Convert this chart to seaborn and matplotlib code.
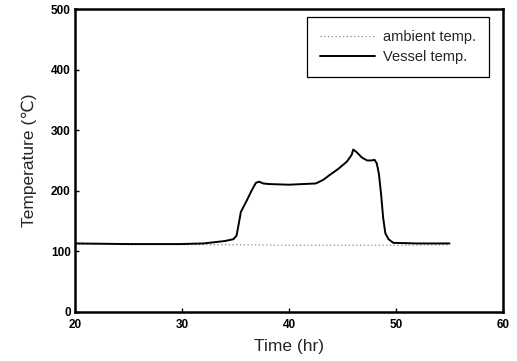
import matplotlib
matplotlib.use("Agg")
import matplotlib.pyplot as plt
import seaborn as sns
import pandas as pd

# Vessel temperature
vessel_time = [20, 25, 29.8, 32, 34.0, 34.8, 35.1, 35.3, 35.5, 36.0, 36.5, 36.9, 37.2, 37.6, 38.2, 40,
               42.5, 43.2, 43.8, 44.6, 45.4, 45.85, 46.0, 46.3, 46.8, 47.3, 47.7, 48.0, 48.2, 48.4,
               48.6, 48.8, 49.0, 49.3, 49.75, 52, 55]
vessel_temp = [113, 112, 112, 113, 117, 120, 126, 145, 165, 182, 200, 213, 215, 212, 211, 210,
               212, 218, 226, 236, 248, 259, 268, 264, 255, 250, 250, 251, 245, 228,
               195, 155, 130, 120, 114, 113, 113]

# Ambient temperature (faint dotted trace)
ambient_time = [20, 25, 30, 35, 40, 45, 50, 55]
ambient_temp = [112, 111, 111, 111, 110, 110, 110, 111]

x_ticks = [20, 30, 40, 50, 60]
y_ticks = [0, 100, 200, 300, 400, 500]

sns.set_theme(style="ticks")
plt.rcParams['font.family'] = ['Liberation Sans', 'DejaVu Sans']

fig = plt.figure(figsize=(5.17, 3.61), dpi=100)
ax = fig.add_axes([0.145, 0.136, 0.828, 0.839])

amb = pd.DataFrame({"t": ambient_time, "v": ambient_temp})
ves = pd.DataFrame({"t": vessel_time, "v": vessel_temp})

sns.lineplot(data=amb, x="t", y="v", ax=ax, color="#888888", lw=0.9,
             linestyle=(0, (1, 2)), label="ambient temp.")
sns.lineplot(data=ves, x="t", y="v", ax=ax, color="black", lw=1.4,
             label="Vessel temp.")

ax.set_xlim(20, 60)
ax.set_ylim(0, 500)
ax.set_xticks(x_ticks)
ax.set_yticks(y_ticks)
ax.tick_params(direction="in", length=3, width=1, labelsize=8.5, colors="black")
ax.tick_params(axis="x", pad=5)
ax.tick_params(axis="y", pad=3)
for lab in ax.get_xticklabels() + ax.get_yticklabels():
    lab.set_fontweight("bold")
for s in ax.spines.values():
    s.set_visible(True)
    s.set_linewidth(1.8)
    s.set_color("black")

ax.set_xlabel("Time (hr)", fontsize=12.5, labelpad=6)
ax.set_ylabel("Temperature (℃)", fontsize=12.5, labelpad=10)

leg = ax.legend(loc="upper right", bbox_to_anchor=(0.967, 0.974), fontsize=10.5,
                frameon=True, fancybox=False, edgecolor="black", framealpha=1,
                handlelength=3.8, borderpad=0.9, labelspacing=0.4, handletextpad=0.5,
                borderaxespad=0)
leg.get_frame().set_linewidth(0.9)

fig.savefig("out.png", dpi=100, facecolor="white")
